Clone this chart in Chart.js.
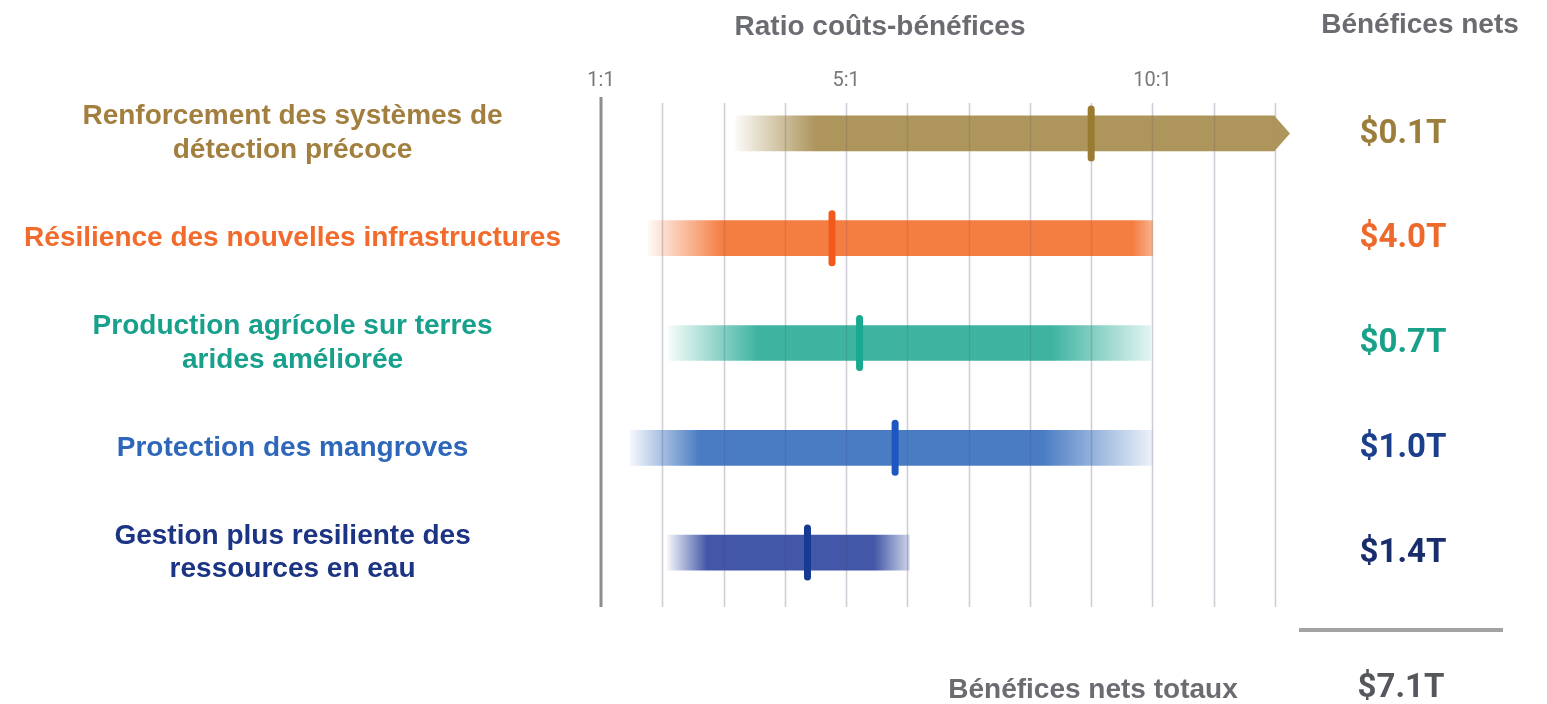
<!DOCTYPE html>
<html><head><meta charset="utf-8">
<script src="https://cdn.jsdelivr.net/npm/chart.js@4/dist/chart.umd.min.js"></script>
<style>html,body{margin:0;padding:0;background:#fff;}#wrap{position:relative;width:1547px;height:704px;}</style>
</head><body><div id="wrap"><canvas id="c" width="1547" height="704"></canvas></div>
<script>
// ---- data ----
const categories = [
  ["Renforcement des systèmes de", "détection précoce"],
  "Résilience des nouvelles infrastructures",
  ["Production agrícole sur terres", "arides améliorée"],
  "Protection des mangroves",
  ["Gestion plus resiliente des", "ressources en eau"]
];
const rangeLow  = [3.2, 1.77, 2.1, 1.47, 2.08];
const rangeHigh = [12, 10, 9.97, 10, 6.03];
const midRatio  = [9.0, 4.77, 5.22, 5.8, 4.37];
const netBenefits = ["$0.1T", "$4.0T", "$0.7T", "$1.0T", "$1.4T"];
const totalBenefit = "$7.1T";
const tickLabels = {1: "1:1", 5: "5:1", 10: "10:1"};
const axisTitle = "Ratio coûts-bénéfices";
const netTitle = "Bénéfices nets";
const totalTitle = "Bénéfices nets totaux";

// ---- styles ----
const labelColors  = ['#a27f3e', '#f26b2c', '#17a08b', '#2e67b9', '#1c3484'];
const barRGB       = [[173,149,92], [244,125,66], [61,179,160], [74,124,195], [66,87,167]];
const markerColors = ['#9a7b32', '#f2591c', '#19a890', '#1f57c2', '#163b92'];
const valueColors  = ['#9c7e3c', '#ee6a2c', '#18a088', '#1c3f8c', '#192d6c'];
const fadeIn  = [80, 75, 90, 70, 40];
const fadeOut = [0, 20, 100, 110, 35];
const endAlpha = [1, 0.6, 0.15, 0.1, 0.25];

function rgba(c, a) { return `rgba(${c[0]},${c[1]},${c[2]},${a})`; }

const overlay = {
  id: 'overlay',
  beforeDatasetsDraw(chart) {
    const {ctx, chartArea: ca, scales: {x}} = chart;
    ctx.save();
    x.ticks.forEach(t => {
      if (t.value === x.min) return;
      const px = Math.round(x.getPixelForValue(t.value)) + 0.5;
      ctx.strokeStyle = '#e3e3e8'; ctx.lineWidth = 1.5;
      ctx.beginPath(); ctx.moveTo(px, ca.top + 22); ctx.lineTo(px, ca.bottom + 2); ctx.stroke();
    });
    ctx.restore();
  },
  afterDatasetsDraw(chart) {
    const {ctx, chartArea: ca, scales: {x, y}} = chart;
    ctx.save();
    // gridlines tinted over bars
    x.ticks.forEach(t => {
      if (t.value === x.min) return;
      const px = Math.round(x.getPixelForValue(t.value)) + 0.5;
      ctx.strokeStyle = 'rgba(60,60,90,0.12)'; ctx.lineWidth = 1.5;
      ctx.beginPath(); ctx.moveTo(px, ca.top + 22); ctx.lineTo(px, ca.bottom + 2); ctx.stroke();
    });
    // 1:1 baseline
    const p1 = x.getPixelForValue(x.min);
    ctx.strokeStyle = '#8e8e8e'; ctx.lineWidth = 3;
    ctx.beginPath(); ctx.moveTo(p1, ca.top + 16); ctx.lineTo(p1, ca.bottom + 2); ctx.stroke();
    // arrows for open-ended ranges
    categories.forEach((_, i) => {
      if (rangeHigh[i] < x.max) return;
      const px = x.getPixelForValue(rangeHigh[i]);
      const py = y.getPixelForValue(i);
      ctx.fillStyle = rgba(barRGB[i], 1);
      ctx.beginPath(); ctx.moveTo(px - 0.5, py - 17.5); ctx.lineTo(px + 15, py); ctx.lineTo(px - 0.5, py + 17.5); ctx.closePath(); ctx.fill();
    });
    // markers
    categories.forEach((_, i) => {
      const px = x.getPixelForValue(midRatio[i]);
      const py = y.getPixelForValue(i);
      ctx.fillStyle = markerColors[i];
      ctx.beginPath(); ctx.roundRect(px - 3.5, py - 28, 7, 56, 3.5); ctx.fill();
    });
    // net benefit values
    ctx.textAlign = 'center'; ctx.textBaseline = 'middle';
    ctx.font = 'bold 33px Roboto';
    categories.forEach((_, i) => {
      ctx.fillStyle = valueColors[i];
      ctx.fillText(netBenefits[i], 1403, y.getPixelForValue(i) + 1);
    });
    ctx.fillStyle = '#55575d';
    ctx.fillText(totalBenefit, 1401, 689);
    // titles
    ctx.font = 'bold 28px "Liberation Sans", Arial, sans-serif';
    ctx.fillStyle = '#6b6c72';
    ctx.fillText(axisTitle, 880, 27);
    ctx.fillText(netTitle, 1420, 25);
    ctx.fillText(totalTitle, 1093, 690);
    // separator
    ctx.strokeStyle = '#a3a3a3'; ctx.lineWidth = 4;
    ctx.beginPath(); ctx.moveTo(1299, 630); ctx.lineTo(1503, 630); ctx.stroke();
    ctx.restore();
  }
};

new Chart(document.getElementById('c'), {
  type: 'bar',
  data: {
    labels: categories,
    datasets: [{
      data: categories.map((_, i) => [rangeLow[i], rangeHigh[i]]),
      barThickness: 35,
      borderWidth: 0,
      grouped: false,
      backgroundColor: (ctx) => {
        const chart = ctx.chart;
        if (!chart.chartArea || ctx.dataIndex === undefined) return 'transparent';
        const i = ctx.dataIndex, xs = chart.scales.x;
        const x0 = xs.getPixelForValue(rangeLow[i]), x1 = xs.getPixelForValue(rangeHigh[i]);
        const w = x1 - x0;
        const g = chart.ctx.createLinearGradient(x0, 0, x1, 0);
        g.addColorStop(0, rgba(barRGB[i], 0.05));
        g.addColorStop(Math.min(0.5, fadeIn[i] / w), rgba(barRGB[i], 1));
        g.addColorStop(Math.max(0.5, 1 - fadeOut[i] / w), rgba(barRGB[i], 1));
        g.addColorStop(1, rgba(barRGB[i], endAlpha[i]));
        return g;
      }
    }]
  },
  options: {
    indexAxis: 'y',
    responsive: false,
    animation: false,
    events: [],
    layout: { padding: { left: 0, right: 272, top: 0, bottom: 99 } },
    plugins: { legend: { display: false }, tooltip: { enabled: false } },
    scales: {
      x: {
        type: 'linear', position: 'top', min: 1, max: 12,
        grid: { display: false, drawTicks: false },
        border: { display: false },
        ticks: {
          stepSize: 1, autoSkip: false, maxRotation: 0, mirror: true, padding: -12,
          color: '#787878', font: { family: 'Roboto', size: 20 },
          callback: (v) => tickLabels[v] ?? ''
        },
        afterFit: (s) => { s.height = 81; }
      },
      y: {
        type: 'category', offset: true,
        grid: { display: false, drawTicks: false },
        border: { display: false },
        ticks: {
          crossAlign: 'center', padding: 40, autoSkip: false,
          color: (c) => labelColors[c.index],
          font: { family: '"Liberation Sans", Arial, sans-serif', weight: 'bold', size: 28, lineHeight: 1.2 }
        },
        afterFit: (s) => { s.width = 601; }
      }
    }
  },
  plugins: [overlay]
});
</script>
</body></html>
